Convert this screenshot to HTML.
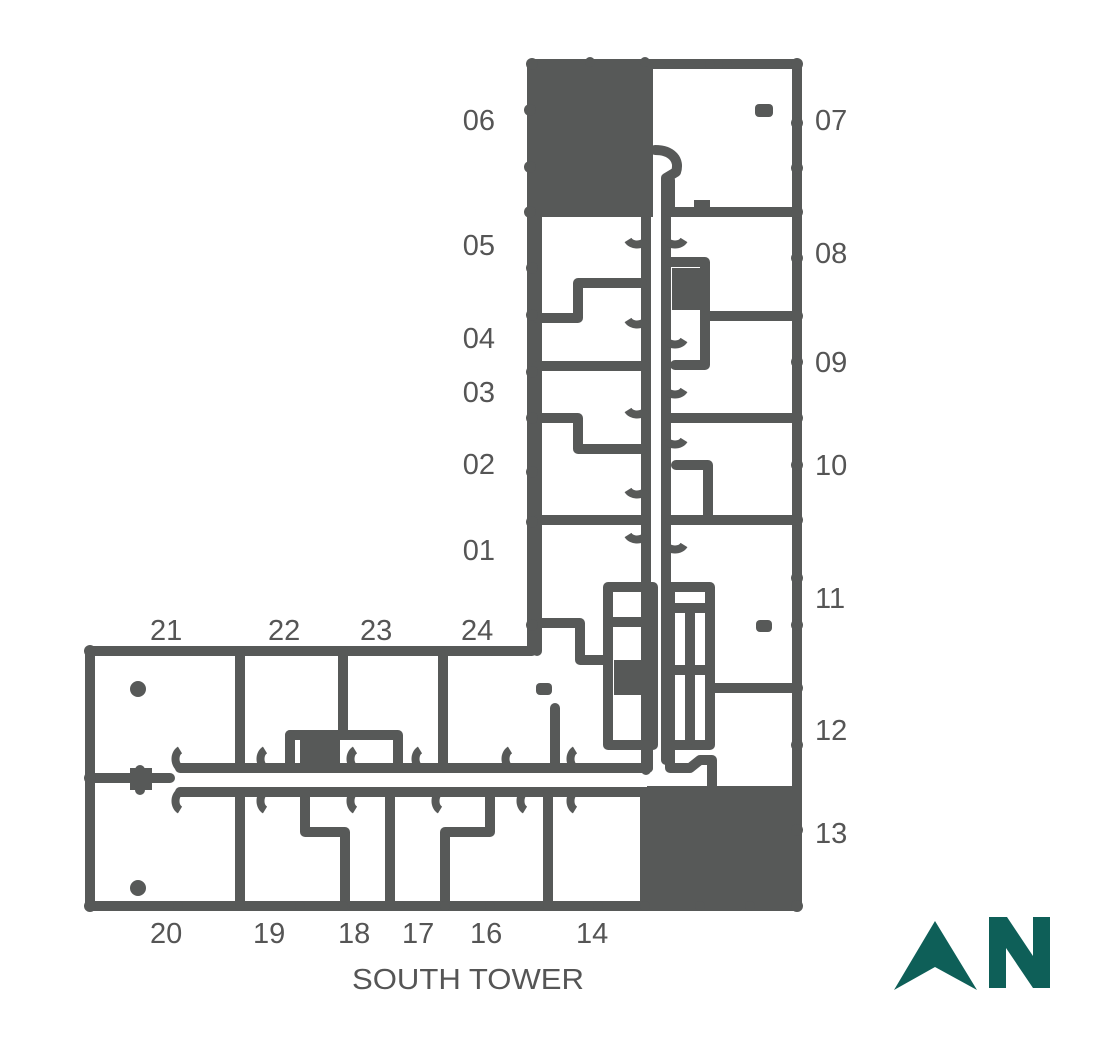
<!DOCTYPE html>
<html><head><meta charset="utf-8"><style>
html,body{margin:0;padding:0;background:#fff;width:1120px;height:1046px;overflow:hidden}
svg{display:block}
text{font-family:"Liberation Sans",Arial,sans-serif;font-size:29px;fill:#555}
</style></head><body>
<svg width="1120" height="1046" viewBox="0 0 1120 1046" xmlns="http://www.w3.org/2000/svg">
<g stroke="#575958" stroke-width="10" fill="none" stroke-linecap="round" stroke-linejoin="round">
<path d="M532 64 H797 V906 H90 V651 H532 Z"/>
<path d="M537 215 V651"/>
<path d="M655 150 C672 150 680 160 676 172 L666 178 V760"/>
<path d="M646 215 V770"/>
<path d="M670 180 V212"/>
<path d="M537 318 H578 V283 H642"/>
<path d="M537 366 H645"/>
<path d="M537 418 H578 V449 H642"/>
<path d="M537 520 H645"/>
<path d="M537 623 H580 V660 H606"/>
<path d="M670 212 H797"/>
<path d="M670 262 H705 V365 H675"/>
<path d="M705 316 H797"/>
<path d="M670 418 H797"/>
<path d="M676 465 H708 V520 H670"/>
<path d="M670 520 H797"/>
<path d="M715 688 H797"/>
<path d="M608 587 H653 V745 H608 Z"/>
<path d="M608 622 H650"/>
<path d="M670 587 H710 V745 H670 Z"/>
<path d="M670 608 H708"/>
<path d="M690 610 V740"/>
<path d="M670 670 H710"/>
<path d="M180 768 H648"/>
<path d="M180 792 H648"/>
<path d="M648 768 V745"/>
<path d="M670 745 V768 L690 768 L700 760 H712 V787"/>
<path d="M90 778 H170"/>
<path d="M140 770 V790"/>
<path d="M240 651 V768"/>
<path d="M343 651 V735"/>
<path d="M290 735 H398 V768"/>
<path d="M290 735 V768"/>
<path d="M443 651 V768"/>
<path d="M555 708 V768"/>
<path d="M240 792 V906"/>
<path d="M305 792 V832 H345 V906"/>
<path d="M390 792 V906"/>
<path d="M490 792 V832 H445 V906"/>
<path d="M548 792 V906"/>
<path d="M645 792 V906"/>
</g>
<g fill="none" stroke="#575958" stroke-width="8">
<path d="M180 768 a8 10 0 0 1 0 -18"/><path d="M180 792 a8 10 0 0 0 0 18"/>
<path d="M265 768 a8 10 0 0 1 0 -18"/><path d="M265 792 a8 10 0 0 0 0 18"/>
<path d="M355 768 a8 10 0 0 1 0 -18"/><path d="M355 792 a8 10 0 0 0 0 18"/>
<path d="M420 768 a8 10 0 0 1 0 -18"/><path d="M440 792 a8 10 0 0 0 0 18"/>
<path d="M510 768 a8 10 0 0 1 0 -18"/><path d="M525 792 a8 10 0 0 0 0 18"/>
<path d="M575 768 a8 10 0 0 1 0 -18"/><path d="M575 792 a8 10 0 0 0 0 18"/>
<path d="M646 240 a10 8 0 0 1 -18 0"/><path d="M666 240 a10 8 0 0 0 18 0"/>
<path d="M646 320 a10 8 0 0 1 -18 0"/><path d="M666 340 a10 8 0 0 0 18 0"/>
<path d="M646 410 a10 8 0 0 1 -18 0"/><path d="M666 390 a10 8 0 0 0 18 0"/>
<path d="M646 490 a10 8 0 0 1 -18 0"/><path d="M666 440 a10 8 0 0 0 18 0"/>
<path d="M646 535 a10 8 0 0 1 -18 0"/><path d="M666 545 a10 8 0 0 0 18 0"/>
</g>
<g fill="#575958">
<rect x="533" y="64" width="120" height="153"/>
<rect x="647" y="786" width="150" height="122"/>
<rect x="300" y="735" width="40" height="33"/>
<rect x="614" y="660" width="32" height="35"/>
<rect x="672" y="268" width="32" height="42"/>
<rect x="755" y="104" width="18" height="13" rx="4"/>
<rect x="756" y="620" width="16" height="12" rx="4"/>
<rect x="536" y="683" width="16" height="12" rx="4"/>
<rect x="130" y="768" width="22" height="22"/>
<circle cx="138" cy="689" r="8"/>
<circle cx="138" cy="888" r="8"/>
<rect x="694" y="200" width="16" height="14"/>
</g>
<g fill="#575958">
<circle cx="532" cy="64" r="6"/><circle cx="797" cy="64" r="6"/><circle cx="590" cy="62" r="5"/><circle cx="645" cy="62" r="5"/><circle cx="710" cy="64" r="5"/><circle cx="727" cy="64" r="5"/>
<circle cx="797" cy="123" r="6"/><circle cx="797" cy="168" r="6"/><circle cx="797" cy="212" r="6"/><circle cx="797" cy="258" r="6"/><circle cx="797" cy="316" r="6"/><circle cx="797" cy="362" r="6"/><circle cx="797" cy="418" r="6"/><circle cx="797" cy="465" r="6"/><circle cx="797" cy="520" r="6"/><circle cx="797" cy="578" r="6"/><circle cx="797" cy="625" r="6"/><circle cx="797" cy="688" r="6"/><circle cx="797" cy="745" r="6"/><circle cx="797" cy="830" r="6"/><circle cx="797" cy="906" r="6"/>
<circle cx="530" cy="110" r="6"/><circle cx="530" cy="167" r="6"/><circle cx="530" cy="212" r="6"/><circle cx="532" cy="268" r="6"/><circle cx="532" cy="315" r="6"/><circle cx="532" cy="372" r="6"/><circle cx="532" cy="418" r="6"/><circle cx="532" cy="472" r="6"/><circle cx="532" cy="522" r="6"/><circle cx="532" cy="625" r="6"/>
<circle cx="90" cy="651" r="6"/><circle cx="195" cy="651" r="5"/><circle cx="240" cy="651" r="5"/><circle cx="298" cy="651" r="5"/><circle cx="343" cy="651" r="5"/><circle cx="385" cy="651" r="5"/><circle cx="440" cy="651" r="5"/><circle cx="490" cy="651" r="5"/>
<circle cx="90" cy="906" r="6"/><circle cx="90" cy="778" r="6"/><circle cx="178" cy="906" r="5"/><circle cx="240" cy="906" r="5"/><circle cx="300" cy="906" r="5"/><circle cx="343" cy="906" r="5"/><circle cx="400" cy="906" r="5"/><circle cx="445" cy="906" r="5"/><circle cx="490" cy="906" r="5"/><circle cx="548" cy="906" r="5"/><circle cx="598" cy="906" r="5"/><circle cx="645" cy="906" r="5"/><circle cx="700" cy="906" r="5"/><circle cx="750" cy="906" r="5"/>
</g>
<g text-anchor="end">
<text x="495" y="130">06</text><text x="495" y="255">05</text><text x="495" y="348">04</text><text x="495" y="402">03</text><text x="495" y="474">02</text><text x="495" y="560">01</text>
</g>
<g>
<text x="815" y="130">07</text><text x="815" y="263">08</text><text x="815" y="372">09</text><text x="815" y="475">10</text><text x="815" y="608">11</text><text x="815" y="740">12</text><text x="815" y="843">13</text>
<text x="150" y="640">21</text><text x="268" y="640">22</text><text x="360" y="640">23</text><text x="461" y="640">24</text>
<text x="150" y="943">20</text><text x="253" y="943">19</text><text x="338" y="943">18</text><text x="402" y="943">17</text><text x="470" y="943">16</text><text x="576" y="943">14</text>
<text x="352" y="989" textLength="232" lengthAdjust="spacingAndGlyphs">SOUTH TOWER</text>
</g>
<g fill="#0e5f58">
<polygon points="935,921 977,990 935,967 894,990"/>
<polygon points="989,917 1007,917 1033,956 1033,917 1050,917 1050,988 1033,988 1006,948 1006,988 989,988"/>
</g>
</svg>
</body></html>
